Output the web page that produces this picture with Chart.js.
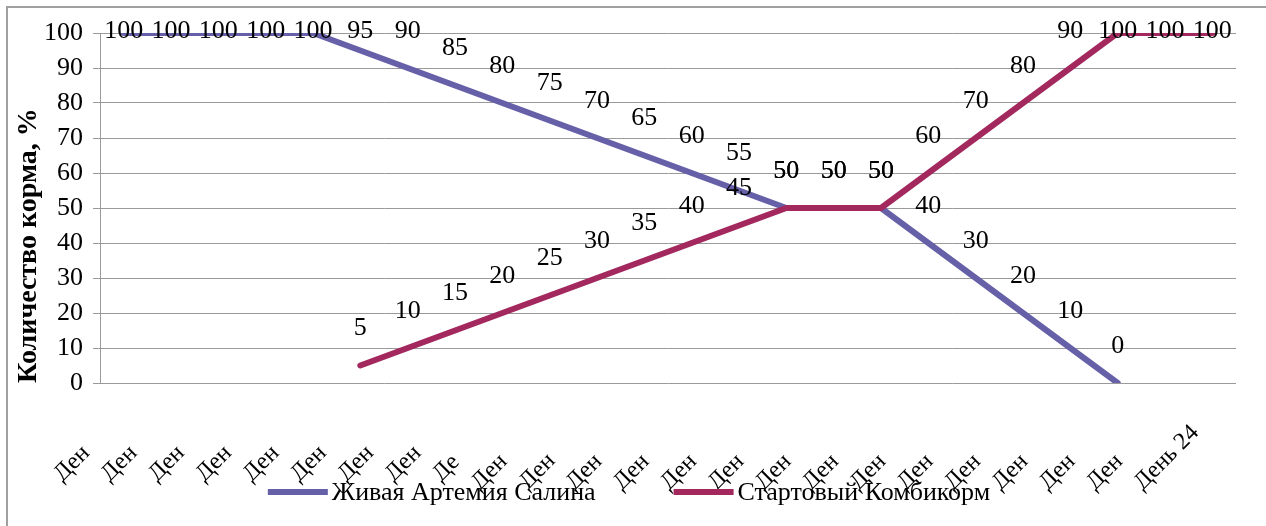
<!DOCTYPE html>
<html><head><meta charset="utf-8">
<script src="https://cdn.jsdelivr.net/npm/chart.js@4.4.0/dist/chart.umd.min.js"></script>
<style>html,body{margin:0;padding:0;background:#fff;}#wrap{position:relative;width:1266px;height:526px;}</style>
</head><body><div id="wrap"><canvas id="c" width="1266" height="526"></canvas></div>
<script>
const categories = ['День 1','День 2','День 3','День 4','День 5','День 6','День 7','День 8','День 9','День 10','День 11','День 12','День 13','День 14','День 15','День 16','День 17','День 18','День 19','День 20','День 21','День 22','День 23','День 24'];
const xTickText = ['Ден','Ден','Ден','Ден','Ден','Ден','Ден','Ден','Де','Ден','Ден','Ден','Ден','Ден','Ден','Ден','Ден','Ден','Ден','Ден','Ден','Ден','Ден','День 24'];
const artemia = [100,100,100,100,100,95,90,85,80,75,70,65,60,55,50,50,50,40,30,20,10,0,null,null];
const kombikorm = [null,null,null,null,null,5,10,15,20,25,30,35,40,45,50,50,50,60,70,80,90,100,100,100];
const seriesNames = ['Живая Артемия Салина','Стартовый Комбикорм'];
const seriesColors = ['#6660a8','#a2285e'];
const yTitle = 'Количество корма, %';

const SERIF = '"Liberation Serif", "Times New Roman", serif';

const decor = {
  id: 'decor',
  afterDatasetsDraw(chart) {
    const {ctx, chartArea, scales: {x}} = chart;
    ctx.save();
    // data labels
    ctx.font = `26px ${SERIF}`;
    ctx.fillStyle = '#000';
    ctx.textAlign = 'center';
    ctx.textBaseline = 'middle';
    chart.data.datasets.forEach((ds, di) => {
      const meta = chart.getDatasetMeta(di);
      meta.data.forEach((pt, i) => {
        const v = ds.data[i];
        if (v === null || v === undefined) return;
        const y = Math.max(pt.y - 37, chartArea.top - 2);
        ctx.fillText(String(v), pt.x, y);
      });
    });
    // x category labels (rotated, truncated as in the original)
    ctx.font = `24px ${SERIF}`;
    ctx.textAlign = 'left';
    categories.forEach((full, i) => {
      const px = x.getPixelForValue(i);
      ctx.save();
      ctx.translate(px - 17, chartArea.bottom + 46);
      ctx.rotate(-Math.PI / 4);
      const w = ctx.measureText(full).width;
      ctx.fillText(xTickText[i], -w, 0);
      ctx.restore();
    });
    // legend
    ctx.font = `26px ${SERIF}`;
    const boxW = 60, gap = 4, spacing = 78;
    const widths = seriesNames.map(n => boxW + gap + ctx.measureText(n).width);
    const total = widths.reduce((a, b) => a + b, 0) + spacing * (widths.length - 1);
    let lx = 629 - total / 2;
    const ly = 492;
    seriesNames.forEach((n, i) => {
      ctx.strokeStyle = seriesColors[i];
      ctx.lineWidth = 6;
      ctx.beginPath();
      ctx.moveTo(lx, ly);
      ctx.lineTo(lx + boxW, ly);
      ctx.stroke();
      ctx.fillStyle = '#000';
      ctx.textAlign = 'left';
      ctx.fillText(n, lx + boxW + gap, ly + 1);
      lx += widths[i] + spacing;
    });
    // outer frame (top and left edges)
    ctx.strokeStyle = '#a0a0a0';
    ctx.lineWidth = 2;
    ctx.beginPath();
    ctx.moveTo(7, 526);
    ctx.lineTo(7, 7);
    ctx.lineTo(1266, 7);
    ctx.stroke();
    ctx.restore();
  }
};

new Chart(document.getElementById('c'), {
  type: 'line',
  data: {
    labels: categories,
    datasets: [
      {label: seriesNames[0], data: artemia, borderColor: seriesColors[0], backgroundColor: seriesColors[0],
       borderWidth: 6, pointRadius: 0, tension: 0, borderJoinStyle: 'round', borderCapStyle: 'round', order: 2},
      {label: seriesNames[1], data: kombikorm, borderColor: seriesColors[1], backgroundColor: seriesColors[1],
       borderWidth: 6, pointRadius: 0, tension: 0, borderJoinStyle: 'round', borderCapStyle: 'round', order: 1}
    ]
  },
  options: {
    responsive: false,
    animation: false,
    devicePixelRatio: 1,
    layout: {padding: {left: 8, right: 30, top: 33, bottom: 0}},
    plugins: {legend: {display: false}, tooltip: {enabled: false}},
    scales: {
      x: {
        offset: true,
        ticks: {display: false},
        grid: {display: false},
        border: {display: false},
        afterFit(s) { s.height = 143; }
      },
      y: {
        min: 0, max: 100,
        ticks: {stepSize: 10, font: {family: SERIF, size: 26}, color: '#000', padding: 10},
        grid: {color: '#9a9a9a', tickLength: 7},
        border: {color: '#9a9a9a'},
        title: {display: true, text: yTitle, color: '#000', align: 'start',
                font: {family: SERIF, size: 28, weight: 'bold'}, padding: {top: 4, bottom: 0}},
        afterFit(s) { s.width = 92; }
      }
    }
  },
  plugins: [decor]
});
</script>
</body></html>
